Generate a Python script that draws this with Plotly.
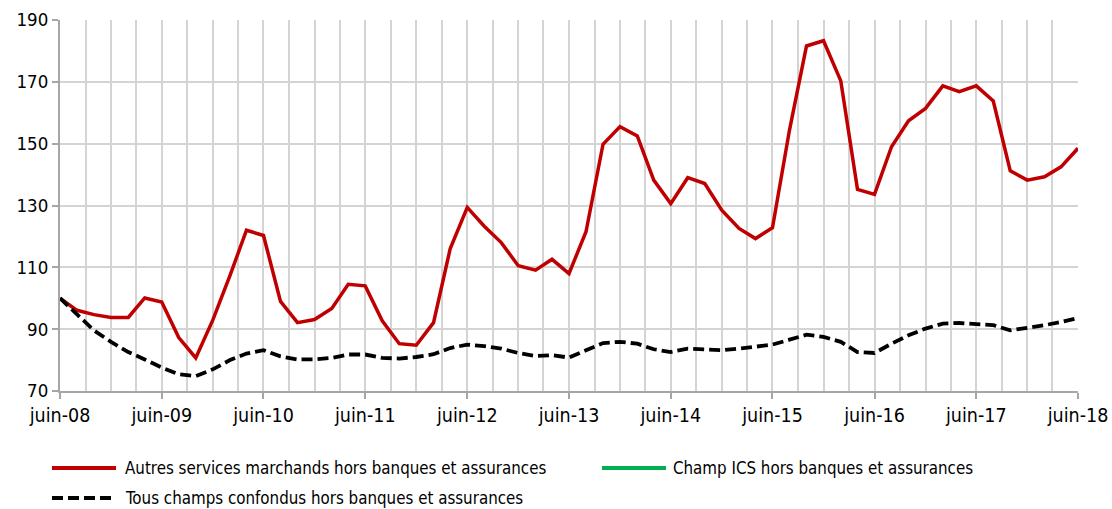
import pandas as pd
import plotly.graph_objects as go

# Bi-monthly periods from June 2008 to June 2018
dates = pd.date_range("2008-06-01", "2018-06-01", freq="2MS")

autres_services = [
    100.0, 96.1, 94.7, 93.8, 93.8, 100.1, 98.8,
    87.3, 80.7, 92.9, 107.4, 122.0, 120.3,
    99.0, 92.1, 93.1, 96.7, 104.5, 104.0,
    92.7, 85.3, 84.8, 92.1, 116.1, 129.4,
    123.3, 118.0, 110.5, 109.1, 112.6, 108.0,
    121.5, 149.8, 155.5, 152.5, 138.2, 130.6,
    139.0, 137.1, 128.5, 122.6, 119.3, 122.8,
    154.4, 181.6, 183.3, 170.3, 135.2, 133.6,
    149.0, 157.4, 161.4, 168.7, 166.8, 168.7,
    163.8, 141.2, 138.2, 139.3, 142.5, 148.5,
]

tous_champs = [
    100.0, 95.0, 89.6, 85.9, 82.6, 80.2, 77.6,
    75.4, 74.8, 77.0, 80.0, 82.1, 83.2,
    81.2, 80.2, 80.2, 80.7, 81.8, 81.8,
    80.7, 80.5, 81.0, 81.9, 83.9, 85.0,
    84.5, 83.7, 82.3, 81.3, 81.6, 80.8,
    83.2, 85.5, 85.9, 85.3, 83.5, 82.6,
    83.7, 83.3, 83.2, 83.7, 84.2, 85.0,
    86.6, 88.2, 87.5, 85.9, 82.6, 82.3,
    85.3, 88.0, 90.2, 91.8, 92.0, 91.8,
    91.3, 89.6, 90.4, 91.3, 92.3, 93.6,
]

champ_ics = [None] * len(dates)

series_names = [
    "Autres services marchands hors banques et assurances",
    "Champ ICS hors banques et assurances",
    "Tous champs confondus hors banques et assurances",
]
series_colors = ["#C00000", "#00B050", "#000000"]
series_dash = ["solid", "solid", "11px,5px"]
series_width = [3.5, 3.5, 3.8]

tick_dates = pd.date_range("2008-06-01", "2018-06-01", freq="12MS")
tick_labels = ["juin-08", "juin-09", "juin-10", "juin-11", "juin-12", "juin-13",
               "juin-14", "juin-15", "juin-16", "juin-17", "juin-18"]
y_ticks = [70, 90, 110, 130, 150, 170, 190]

FONT = "DejaVu Sans Condensed"
W, H = 1112, 509
ML, MR, MT, MB = 60, 34, 20, 118
PW, PH = W - ML - MR, H - MT - MB


def px_x(px):
    return (px - ML) / PW


def px_y(py):
    return (H - MB - py) / PH


fig = go.Figure()
for name, vals, col, dsh, wd in zip(series_names,
                                    [autres_services, champ_ics, tous_champs],
                                    series_colors, series_dash, series_width):
    fig.add_trace(go.Scatter(
        x=dates, y=vals, mode="lines", name=name, showlegend=False,
        line=dict(color=col, width=wd, dash=dsh),
    ))

# Legend (layout decoration): sample line + label for each series
legend_slots = [(52, 116, 123, 468), (602, 666, 671, 468), (52, 113, 123, 498)]
shapes = []
annotations = []
for (x0, x1, tx, ty), name, col, dsh in zip(legend_slots, series_names,
                                            series_colors, series_dash):
    shapes.append(dict(
        type="line", xref="paper", yref="paper",
        x0=px_x(x0), x1=px_x(x1), y0=px_y(ty), y1=px_y(ty),
        line=dict(color=col, width=4, dash=dsh),
    ))
    annotations.append(dict(
        xref="paper", yref="paper", x=px_x(tx), y=px_y(ty),
        xanchor="left", yanchor="middle", showarrow=False, text=name,
        font=dict(family=FONT, size=16.8, color="#000000"),
    ))

fig.update_layout(
    width=W, height=H,
    margin=dict(l=ML, r=MR, t=MT, b=MB),
    paper_bgcolor="white", plot_bgcolor="white",
    font=dict(family=FONT, size=17, color="#000000"),
    showlegend=False,
    shapes=shapes, annotations=annotations,
    xaxis=dict(
        range=[dates[0], dates[-1]],
        tickvals=list(tick_dates), ticktext=tick_labels,
        showgrid=True, gridcolor="#D4D4D4", gridwidth=1.5,
        minor=dict(dtick="M3", tick0="2008-06-01", showgrid=True,
                   gridcolor="#D4D4D4", gridwidth=1.5, ticks=""),
        showline=True, linecolor="#A6A6A6", linewidth=2,
        ticks="outside", ticklen=6, tickcolor="#A6A6A6", tickwidth=1.5,
        tickfont=dict(family=FONT, size=19.5),
        zeroline=False, automargin=False,
    ),
    yaxis=dict(
        range=[70, 190], tickvals=y_ticks,
        showgrid=True, gridcolor="#D4D4D4", gridwidth=1.5,
        showline=True, linecolor="#A6A6A6", linewidth=2,
        ticks="outside", ticklen=6, tickcolor="#A6A6A6", tickwidth=1.5,
        tickfont=dict(family=FONT, size=18.5),
        zeroline=False, automargin=False,
    ),
)

fig.write_html(
    "out.html",
    config={"displayModeBar": False},
    post_script="document.body.style.margin='0';document.body.style.padding='0';",
)
